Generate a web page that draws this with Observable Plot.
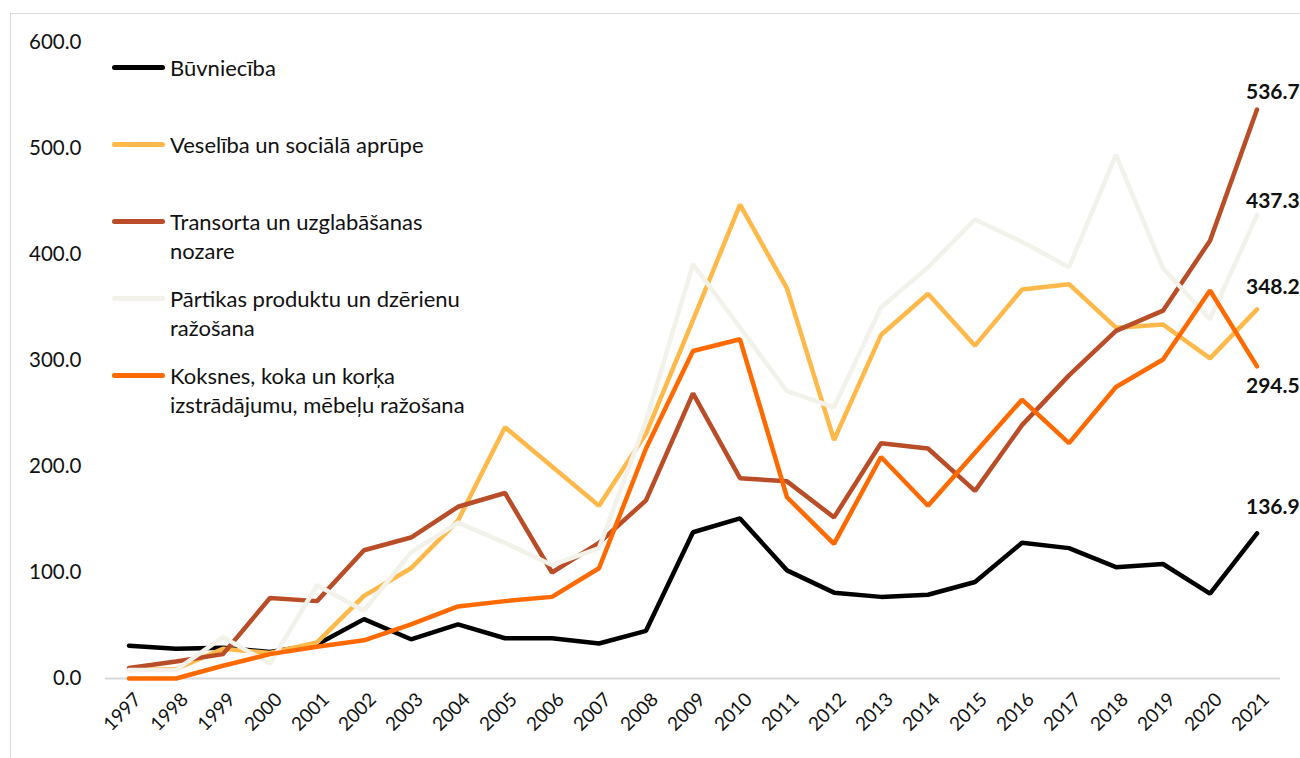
<!DOCTYPE html>
<html>
<head>
<meta charset="utf-8">
<script src="https://cdn.jsdelivr.net/npm/d3@7"></script>
<script src="https://cdn.jsdelivr.net/npm/@observablehq/plot@0.6"></script>
<style>
  html, body { margin: 0; padding: 0; background: #fff; overflow: hidden; }
  #wrap { position: relative; width: 1300px; height: 758px; font-family: Lato, "Open Sans", sans-serif; }
  #frame { position: absolute; left: 10px; top: 13px; width: 1300px; height: 800px; border: 1px solid #d9d9d9; box-sizing: border-box; }
  #chart { position: absolute; left: 0; top: 0; }
  #legend { position: absolute; left: 112px; top: 53px; }
  .item { position: relative; height: 77px; }
  .sw { position: absolute; left: 0; top: 12px; width: 53px; height: 5px; border-radius: 3px; }
  .lab { position: absolute; left: 58px; top: 0; font-size: 22px; line-height: 29px; color: #111; white-space: pre; }
</style>
</head>
<body>
<div id="wrap">
  <div id="frame"></div>
  <div id="chart"></div>
  <div id="legend"></div>
</div>
<script>
// ---- data ----
const years = [1997, 1998, 1999, 2000, 2001, 2002, 2003, 2004, 2005, 2006, 2007, 2008, 2009,
               2010, 2011, 2012, 2013, 2014, 2015, 2016, 2017, 2018, 2019, 2020, 2021];
const seriesNames = [
  "Būvniecība",
  "Veselība un sociālā aprūpe",
  "Transorta un uzglabāšanas nozare",
  "Pārtikas produktu un dzērienu ražošana",
  "Koksnes, koka un korķa izstrādājumu, mēbeļu ražošana"
];
const legendLabels = [
  "Būvniecība",
  "Veselība un sociālā aprūpe",
  "Transorta un uzglabāšanas\nnozare",
  "Pārtikas produktu un dzērienu\nražošana",
  "Koksnes, koka un korķa\nizstrādājumu, mēbeļu ražošana"
];
const buvnieciba = [31, 28, 29, 25, 32, 56, 37, 51, 38, 38, 33, 45, 138, 151, 102, 81, 77, 79, 91, 128, 123, 105, 108, 80, 136.9];
const veseliba   = [8, 9, 28, 24, 34, 78, 104, 149, 237, 200, 163, 231, 338, 447, 368, 225, 324, 363, 314, 367, 372, 331, 334, 302, 348.2];
const transports = [10, 16, 23, 76, 73, 121, 133, 162, 175, 100, 128, 168, 269, 189, 186, 152, 222, 217, 177, 239, 286, 328, 347, 413, 536.7];
const partika    = [8, 8, 39, 14, 88, 64, 119, 147, 128, 107, 123, 243, 391, 331, 271, 256, 350, 388, 433, 412, 388, 494, 387, 339, 437.3];
const koksne     = [0, 0, 12, 23, 30, 36, 51, 68, 73, 77, 104, 217, 309, 320, 171, 127, 209, 163, 213, 263, 222, 275, 301, 366, 294.5];
const yTicks = [0, 100, 200, 300, 400, 500, 600];

// ---- styling ----
const colors = ["#000000", "#FFB94A", "#B84D27", "#F2F2EA", "#FF6A00"];
const endLabelDy = [-26, -22, -17, -14, 20];

const allValues = [buvnieciba, veseliba, transports, partika, koksne];
const rows = [];
seriesNames.forEach((s, k) => years.forEach((yr, i) => rows.push({series: s, year: yr, value: allValues[k][i]})));

const W = 1300, H = 758;
const marks = [
  Plot.ruleY([0], {stroke: "#d9d9d9", strokeWidth: 2}),
  Plot.axisY({ticks: yTicks, tickFormat: d => d.toFixed(1), tickSize: 0, tickPadding: 24, fontSize: 20.5, label: null}),
  Plot.text(years, {x: d => d, y: 0, text: d => String(d), rotate: -45, textAnchor: "end", dx: 9, dy: 18, fontSize: 19, fill: "#111"}),
  Plot.line(rows, {x: "year", y: "value", z: "series", stroke: "series", strokeWidth: 4.5, strokeLinecap: "round", strokeLinejoin: "miter"})
];
seriesNames.forEach((s, k) => {
  const last = rows.filter(r => r.series === s && r.year === years[years.length - 1]);
  marks.push(Plot.text(last, {x: "year", y: "value", text: d => d.value.toFixed(1), textAnchor: "start", dx: -11, dy: endLabelDy[k], fontSize: 21, fontWeight: "bold", fill: "#111"}));
});

const chart = Plot.plot({
  width: W, height: H,
  marginLeft: 105, marginRight: 20, marginTop: 42, marginBottom: 80,
  x: {domain: [1996.5, 2021.5], axis: null},
  y: {domain: [0, 600], axis: null},
  color: {domain: seriesNames, range: colors},
  style: {fontFamily: "Lato, 'Open Sans', sans-serif", fontSize: "18px", color: "#111", background: "transparent", overflow: "visible"},
  marks
});
document.getElementById("chart").appendChild(chart);

const legend = document.getElementById("legend");
legendLabels.forEach((t, k) => {
  const item = document.createElement("div");
  item.className = "item";
  const sw = document.createElement("div");
  sw.className = "sw";
  sw.style.background = colors[k];
  const lab = document.createElement("div");
  lab.className = "lab";
  lab.textContent = t;
  item.appendChild(sw); item.appendChild(lab);
  legend.appendChild(item);
});
</script>
</body>
</html>
